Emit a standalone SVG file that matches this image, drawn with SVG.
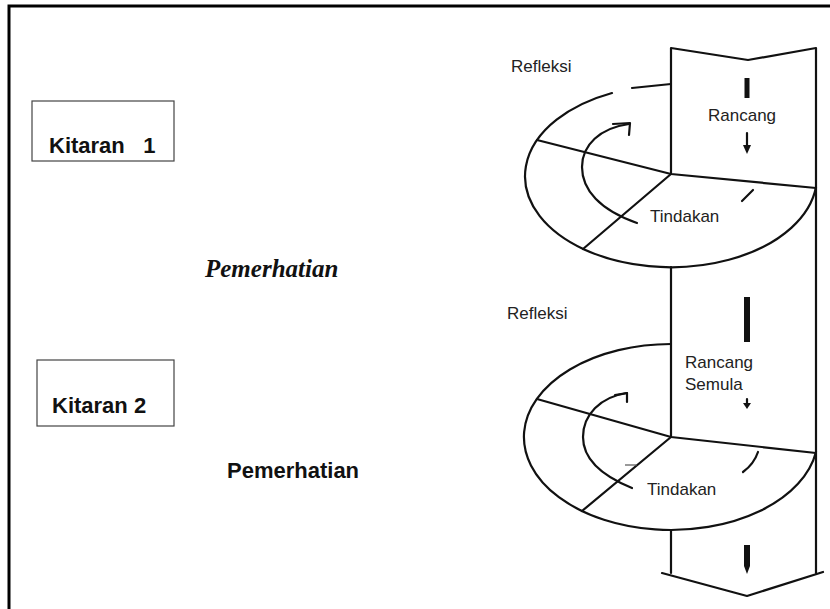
<svg xmlns="http://www.w3.org/2000/svg" width="830" height="609" viewBox="0 0 830 609">
<style>
.ln{fill:none;stroke:#111;stroke-width:2.2;stroke-linecap:round;stroke-linejoin:round}
.box{fill:#fff;stroke:#444;stroke-width:1.2}
.lbl{font-family:"Liberation Sans",Arial,sans-serif;font-size:22px;font-weight:bold;fill:#111}
.sm{font-family:"Liberation Sans",Arial,sans-serif;font-size:17px;fill:#222}
.it{font-family:"Liberation Serif","Times New Roman",serif;font-size:25px;font-weight:bold;font-style:italic;fill:#111}
.bar{fill:#111}
</style>
<rect x="0" y="0" width="830" height="609" fill="#fff"/>
<path d="M9 609 V6 H830" fill="none" stroke="#000" stroke-width="3"/>

<g id="kitaran1">
<rect class="box" x="32" y="101" width="142" height="60"/>
<text class="lbl" x="49" y="153" xml:space="preserve">Kitaran   1</text>
</g>
<g id="kitaran2">
<rect class="box" x="37" y="360" width="137" height="66"/>
<text class="lbl" x="52" y="413">Kitaran 2</text>
</g>
<g id="pemerhatian1">
<text class="it" x="205" y="277">Pemerhatian</text>
</g>
<g id="pemerhatian2">
<text class="lbl" x="227" y="478">Pemerhatian</text>
</g>

<g id="column">
<path class="ln" d="M671 174 V48 L748 60 L816 48 V573"/>
<path class="ln" d="M671 267 V437"/>
<path class="ln" d="M671 530 V573"/>
<path class="ln" d="M662 573 L747 596 L823 572"/>
<rect class="bar" x="744.5" y="78" width="5" height="20"/>
<rect class="bar" x="744" y="297" width="6" height="45"/>
<path class="bar" d="M744 545 H750 V566 L747 574 L744 566 Z"/>
<text class="sm" x="708" y="121">Rancang</text>
<text class="sm" x="685" y="368">Rancang</text>
<text class="sm" x="685" y="390">Semula</text>
</g>

<g id="cycle1">
<path class="ln" d="M612 93 A146 91 0 1 0 816 187"/>
<path class="ln" d="M632 88 L671 84"/>
<path class="ln" d="M537 140 L671 174 L816 188"/>
<path class="ln" d="M671 174 L583 249"/>
<path class="ln" d="M742 201 L753 190"/>
<text class="sm" x="511" y="72">Refleksi</text>
<text class="sm" x="650" y="222">Tindakan</text>
</g>

<g id="cycle2">
<path class="ln" d="M671 344 A147 93 0 1 0 816 452"/>
<path class="ln" d="M537 399 L671 437 L816 453"/>
<path class="ln" d="M671 437 L582 511"/>
<path d="M625 465 H637" stroke="#555" stroke-width="1.2"/>
<path class="ln" d="M743 472 Q754 464 758 452"/>
<text class="sm" x="507" y="319">Refleksi</text>
<text class="sm" x="647" y="495">Tindakan</text>
</g>

<g id="connectors">
<path class="ln" d="M637 223 C600 210 582 190 582 167 C582 145 600 128 629 124"/>
<path class="ln" d="M613 124 L630 123 L629 135"/>
<path class="ln" d="M632 488 C600 475 583 458 583 437 C583 415 600 397 627 393"/>
<path class="ln" d="M615 395 L627 393 L627 402"/>
<path class="ln" d="M747 133 V151"/>
<path class="bar" d="M743 145 L751 145 L747 154 Z"/>
<path class="ln" d="M747 399 V404"/>
<path class="bar" d="M743 403 L751 403 L747 409 Z"/>
</g>
</svg>
